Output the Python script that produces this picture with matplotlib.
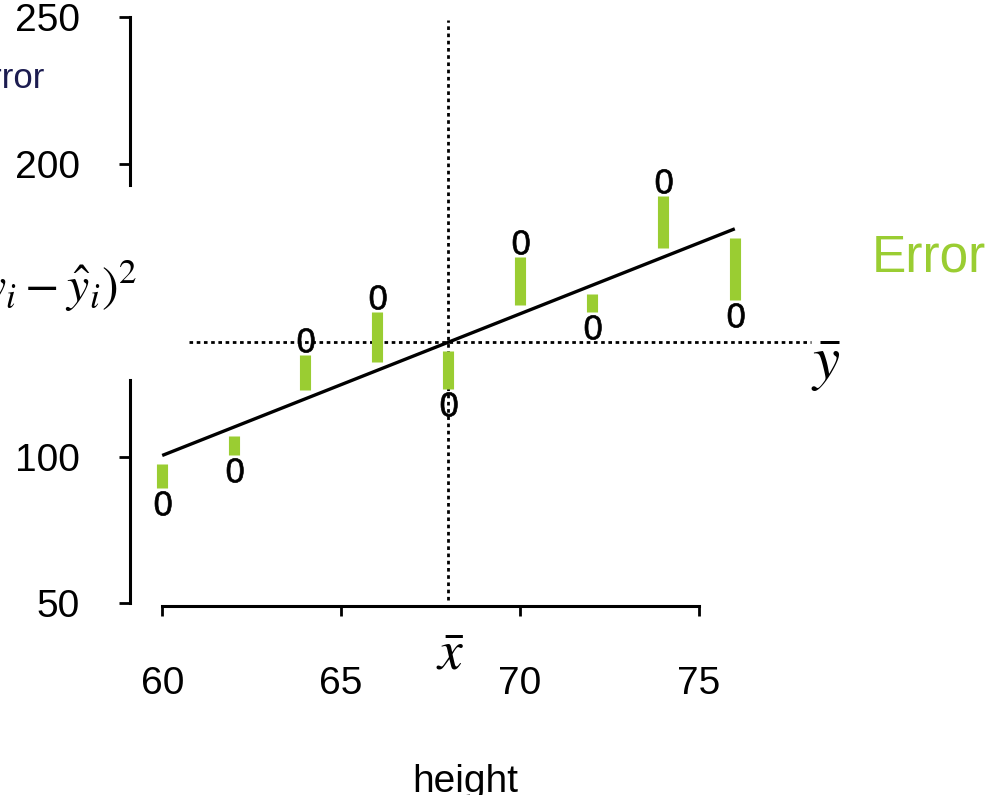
import numpy as np
import matplotlib
matplotlib.use("Agg")
import matplotlib.pyplot as plt
from matplotlib.textpath import TextPath
from matplotlib.font_manager import FontProperties
from matplotlib.path import Path

# Observations: height (x) and weight (y)
height = [60, 62, 64, 66, 68, 70, 72, 74, 76]
weight = [84.1, 95.4, 139.8, 154.4, 117.9, 173.2, 144.2, 194.0, 148.3]
x_ticks = [60, 65, 70, 75]
y_ticks = [50, 100, 200, 250]
x_label = "height"

plt.rcParams["font.family"] = ["Liberation Sans", "DejaVu Sans"]
plt.rcParams["mathtext.fontset"] = "stix"

W, H = 995, 795
fig = plt.figure(figsize=(W / 100, H / 100), dpi=100)
left_px, right_px, top_px, bottom_px = 130, 840, 16, 606
ax = fig.add_axes([left_px / W, 1 - bottom_px / H,
                   (right_px - left_px) / W, (bottom_px - top_px) / H])
ax.set_xlim(59.10, 78.94)
ax.set_ylim(48.98, 250.34)

x = np.array(height, dtype=float)
y = np.array(weight, dtype=float)
xbar, ybar = x.mean(), y.mean()
slope, intercept = np.polyfit(x, y, 1)
fit = intercept + slope * x

# axes: R-style detached spines, y axis broken around the label
for side in ("top", "right", "left"):
    ax.spines[side].set_visible(False)
ax.spines["bottom"].set_bounds(x_ticks[0], x_ticks[-1])
ax.spines["bottom"].set_linewidth(2.2)
ytr = ax.get_yaxis_transform()
ax.plot([0, 0], [192.7, 250], color="black", lw=2.2, transform=ytr, clip_on=False)
ax.plot([0, 0], [50, 126.1], color="black", lw=2.2, transform=ytr, clip_on=False)

ax.set_xticks(x_ticks)
ax.set_yticks(y_ticks)
ax.tick_params(axis="x", length=7, width=2, pad=36, labelsize=28)
ax.tick_params(axis="y", length=8, width=2, pad=28, labelsize=28)

ax.set_xlabel(x_label, fontsize=28, va="baseline")
ax.xaxis.set_label_coords((465 - left_px) / (right_px - left_px),
                          -(792 - bottom_px) / (bottom_px - top_px))

# mean lines
dot = (0, (1.3, 1.3))
ax.plot([60.75, 78.13], [ybar, ybar], color="black", lw=2, ls=dot)
ax.plot([xbar, xbar], [51, 249], color="black", lw=2, ls=dot)

# fitted line
ax.plot([x.min(), x.max()], [intercept + slope * x.min(), intercept + slope * x.max()],
        color="black", lw=2.4, solid_capstyle="butt")

# residual bars, kept short of the line and the point
gap_line, gap_pt = 3.0, 5.0
sign = np.sign(y - fit)
lo = fit + sign * gap_line
hi = y - sign * gap_pt
ax.vlines(x, lo, hi, colors="#9acd32", lw=8, capstyle="butt")

# "0" glyph markers
tp = TextPath((0, 0), "0", size=1, prop=FontProperties(family="Liberation Sans"))
v = tp.vertices
ctr = (v.min(axis=0) + v.max(axis=0)) / 2
zero = Path(v - ctr, tp.codes)
ax.plot(x, y, ls="none", marker=zero, ms=17.5, mfc="black", mec="black", mew=0.5)

# annotations
fig.text(872 / W, 1 - 272 / H, "Error", color="#9acd32", fontsize=37,
         ha="left", va="baseline")
fig.text(45 / W, 1 - 88 / H, "Error", color="#1c1c50", fontsize=25,
         ha="right", va="baseline")
fig.text(137 / W, 1 - 302 / H, r"$(y_i - \hat{y}_i)^2$", fontsize=36,
         ha="right", va="baseline")
fig.text(450 / W, 1 - 670 / H, r"$\bar{x}$", fontsize=40, ha="center", va="baseline")
fig.text(826 / W, 1 - 379 / H, r"$\bar{y}$", fontsize=44, ha="center", va="baseline")

fig.savefig("out.png", dpi=100)
